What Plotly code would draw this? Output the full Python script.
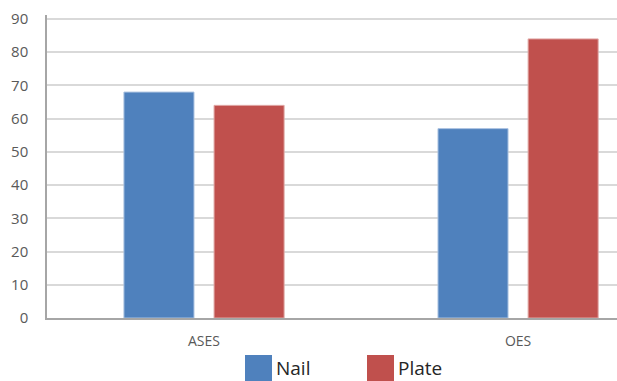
import plotly.graph_objects as go

categories = ["ASES", "OES"]
nail = [68, 57]
plate = [64, 84]
series_names = ["Nail", "Plate"]
y_ticks = [0, 10, 20, 30, 40, 50, 60, 70, 80, 90]

blue = "#4f81bd"
red = "#c0504d"

xpos = list(range(len(categories)))
bar_w = 0.223
gap = 0.064

fig = go.Figure()
fig.add_trace(go.Bar(
    x=xpos, y=nail, name=series_names[0], width=bar_w,
    offset=-(bar_w + gap / 2), marker=dict(color=blue, line=dict(color="#a9c1e0", width=1)),
    showlegend=False,
))
fig.add_trace(go.Bar(
    x=xpos, y=plate, name=series_names[1], width=bar_w,
    offset=gap / 2, marker=dict(color=red, line=dict(color="#e0a8a6", width=1)),
    showlegend=False,
))

# custom legend with large swatches below the plot
legend_items = [(series_names[0], blue, 245), (series_names[1], red, 367)]
for name, color, x0 in legend_items:
    fig.add_shape(type="rect", xref="paper", yref="paper",
                  x0=(x0 - 47) / 570, x1=(x0 + 27 - 47) / 570,
                  y0=(318 - 381) / 303, y1=(318 - 355) / 303,
                  fillcolor=color, line=dict(width=0))
    fig.add_annotation(text=name, xref="paper", yref="paper",
                       x=(x0 + 29 - 47) / 570, y=(318 - 368) / 303,
                       xanchor="left", yanchor="middle", showarrow=False,
                       font=dict(size=19, color="#262626", family="Open Sans"))

fig.update_layout(
    width=617, height=381,
    margin=dict(l=47, r=0, t=15, b=63),
    plot_bgcolor="white", paper_bgcolor="white",
    barmode="overlay",
    font=dict(family="Open Sans", color="#595959"),
    xaxis=dict(
        range=[-0.5, 1.315], tickvals=xpos, ticktext=categories,
        showgrid=False, zeroline=False,
        showline=True, linecolor="#a6a6a6", linewidth=2,
        ticks="", tickfont=dict(size=14, color="#595959"),
        ticklabelstandoff=9,
    ),
    yaxis=dict(
        range=[0, 91.2], tickvals=y_ticks,
        showgrid=True, gridcolor="#d9d9d9", gridwidth=1.5,
        zeroline=False,
        showline=True, linecolor="#a6a6a6", linewidth=1.5,
        ticks="", tickfont=dict(size=15, color="#595959"),
        ticklabelstandoff=14,
    ),
)

fig.write_html("out.html")
